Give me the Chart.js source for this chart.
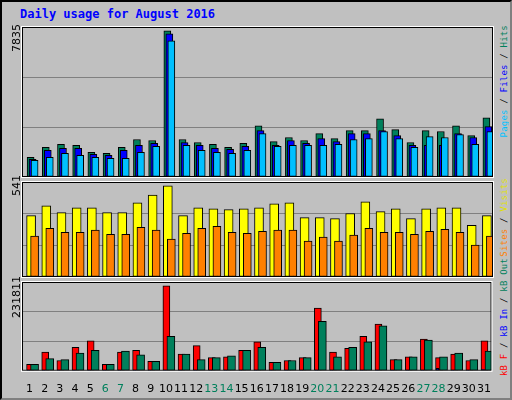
<!DOCTYPE html>
<html lang="en">
<head>
<meta charset="UTF-8">
<title>Daily usage for August 2016</title>
<script src="https://cdn.jsdelivr.net/npm/chart.js@4/dist/chart.umd.min.js"></script>
<style>
    body { margin: 0; background: #fff; }
    #frame {
        position: absolute; left: 0; top: 0; width: 508px; height: 396px;
        background: #c0c0c0; border: 2px solid; border-color: #000 #808080 #808080 #000;
    }
    h1 {
        position: absolute; left: 18px; top: 5px; margin: 0;
        font: bold 12px "DejaVu Sans Mono", monospace; color: #0000ff;
    }
    canvas { position: absolute; left: 18px; }
    .vlab {
        position: absolute; writing-mode: vertical-rl; transform: rotate(180deg);
        font: 9px "DejaVu Sans Mono", monospace; white-space: nowrap; letter-spacing: 0.2px;
    }
    .ymax { font: 11px "DejaVu Sans", sans-serif; color: #000; letter-spacing: 0; }
</style>
</head>
<body>
<div id="frame">
    <h1>Daily usage for August 2016</h1>
    <canvas id="c1" width="475" height="154" style="top:23px"></canvas>
    <canvas id="c2" width="475" height="99" style="top:178px"></canvas>
    <canvas id="c3" width="475" height="120" style="top:278px"></canvas>
    <div class="vlab ymax" id="y1" style="left:8px; bottom:346px"></div>
    <div class="vlab ymax" id="y2" style="left:8px; bottom:202px"></div>
    <div class="vlab ymax" id="y3" style="left:8px; bottom:80px"></div>
    <div class="vlab" style="left:497px; bottom:261px">
        <span style="color:#00c0ff">Pages</span> / <span style="color:#0000ff">Files</span> / <span style="color:#00805c">Hits</span></div>
    <div class="vlab" style="left:497px; bottom:141px">
        <span style="color:#ff8000">Sites</span> / <span style="color:#e0e000">Visits</span></div>
    <div class="vlab" style="left:497px; bottom:22px">
        <span style="color:#ff0000">kB F</span> / <span style="color:#0000ff">kB In</span> / <span style="color:#00805c">kB Out</span></div>
</div>
<script>
const days = ['1','2','3','4','5','6','7','8','9','10','11','12','13','14','15','16',
    '17','18','19','20','21','22','23','24','25','26','27','28','29','30','31'];
const weekends = ['6','7','13','14','20','21','27','28'];

const hits  = [1060,1590,1750,1700,1320,1270,1590,2010,1960,7835,2010,1850,1750,1590,1800,2750,
    1900,2120,1960,2330,2060,2490,2490,3120,2540,1850,2490,2440,2750,2220,3180];
const files = [950,1430,1540,1540,1220,1160,1430,1700,1800,7680,1850,1700,1540,1480,1640,2490,
    1700,1960,1800,2060,1900,2330,2330,2490,2220,1700,1700,1700,2330,2120,2700];
const pages = [900,1060,1270,1160,1060,1000,1000,1320,1640,7300,1700,1430,1320,1270,1430,2330,
    1640,1700,1700,1700,1750,2010,2060,2440,2060,1590,2170,2120,2280,1750,2440];

const visits = [365,423,382,411,411,382,382,441,487,541,365,411,405,400,405,411,
    435,441,353,353,347,377,446,388,405,347,405,411,411,307,365];
const sites  = [243,289,266,266,278,254,254,295,278,225,260,289,301,266,260,272,
    278,278,214,237,214,249,289,266,266,254,272,283,266,190,243];

const kbF   = [17800,51000,28000,63700,81500,17800,51000,56000,25500,231811,45800,68800,35700,38200,56000,79000,
    22900,28000,35700,170600,51000,61100,94200,127400,30600,38200,86600,35700,45800,28000,81500];
const kbIn  = [500,500,500,500,500,500,500,500,500,1200,500,500,500,500,500,500,
    500,500,500,500,500,500,500,500,500,500,500,7000,500,500,3500];
const kbOut = [17800,33100,30600,48400,56000,17800,53500,43300,25500,94200,45800,30600,35700,40700,56000,63700,
    22900,28000,35700,135000,38200,63700,79000,122300,30600,38200,84000,38200,48400,30600,53500];

// shift bars sideways so they overlap like the original
const shiftPlugin = {
    id: 'shift',
    afterDatasetsUpdate(chart) {
        chart.data.datasets.forEach((ds, i) => {
            chart.getDatasetMeta(i).data.forEach(el => { el.x += ds.shift || 0; });
        });
    },
    afterDraw(chart) {
        const a = chart.chartArea, ctx = chart.ctx;
        ctx.save();
        ctx.strokeStyle = '#000';
        ctx.lineWidth = 1;
        ctx.strokeRect(a.left + 0.5, a.top + 0.5, a.width - 1, a.height - 1);
        ctx.strokeStyle = '#fff';
        ctx.strokeRect(a.left - 0.5, a.top - 0.5, a.width + 1, a.height + 1);
        ctx.restore();
    }
};

function bar(data, color, thick, shift) {
    return { data, backgroundColor: color, borderColor: '#000', borderWidth: 1,
        borderSkipped: false, barThickness: thick, shift, grouped: false };
}

function makeChart(id, datasets, max, ratio, showX) {
    const top = max * ratio;
    return new Chart(document.getElementById(id), {
        type: 'bar',
        data: { labels: days, datasets },
        options: {
            responsive: false, animation: false, devicePixelRatio: 1,
            layout: { padding: { left: 2, right: 2, top: 2, bottom: showX ? 0 : 2 } },
            plugins: { legend: { display: false }, tooltip: { enabled: false } },
            scales: {
                x: {
                    display: showX,
                    grid: { display: false }, border: { display: false },
                    ticks: {
                        autoSkip: false, maxRotation: 0, padding: 4,
                        font: { family: 'DejaVu Sans', size: 11 },
                        color: c => weekends.includes(days[c.index]) ? '#00805c' : '#000'
                    }
                },
                y: {
                    min: 0, max: top,
                    afterBuildTicks: s => { s.ticks = [0, 1, 2, 3].map(k => ({ value: top * k / 3 })); },
                    ticks: { display: false },
                    border: { display: false },
                    grid: { color: c => (c.index === 1 || c.index === 2) ? '#808080' : 'rgba(0,0,0,0)',
                        lineWidth: 1, drawTicks: false }
                }
            }
        },
        plugins: [shiftPlugin]
    });
}

const hitsMax = Math.max(...hits), visMax = Math.max(...visits), kbMax = Math.max(...kbF);
document.getElementById('y1').textContent = hitsMax;
document.getElementById('y2').textContent = visMax;
document.getElementById('y3').textContent = kbMax;

makeChart('c1', [
    bar(pages, '#00c0ff', 7, 5),
    bar(files, '#0000ff', 7, 3),
    bar(hits, '#00805c', 7, 1)
], hitsMax, 152 / 148, false);

makeChart('c2', [
    bar(sites, '#ff8000', 8, 5),
    bar(visits, '#ffff00', 9, 1.5)
], visMax, 97 / 93, false);

makeChart('c3', [
    bar(kbIn, '#0000ff', 3, -1),
    bar(kbOut, '#00805c', 8, 5),
    bar(kbF, '#ff0000', 7, 0.5)
], kbMax, 95 / 91, true);
</script>
</body>
</html>
